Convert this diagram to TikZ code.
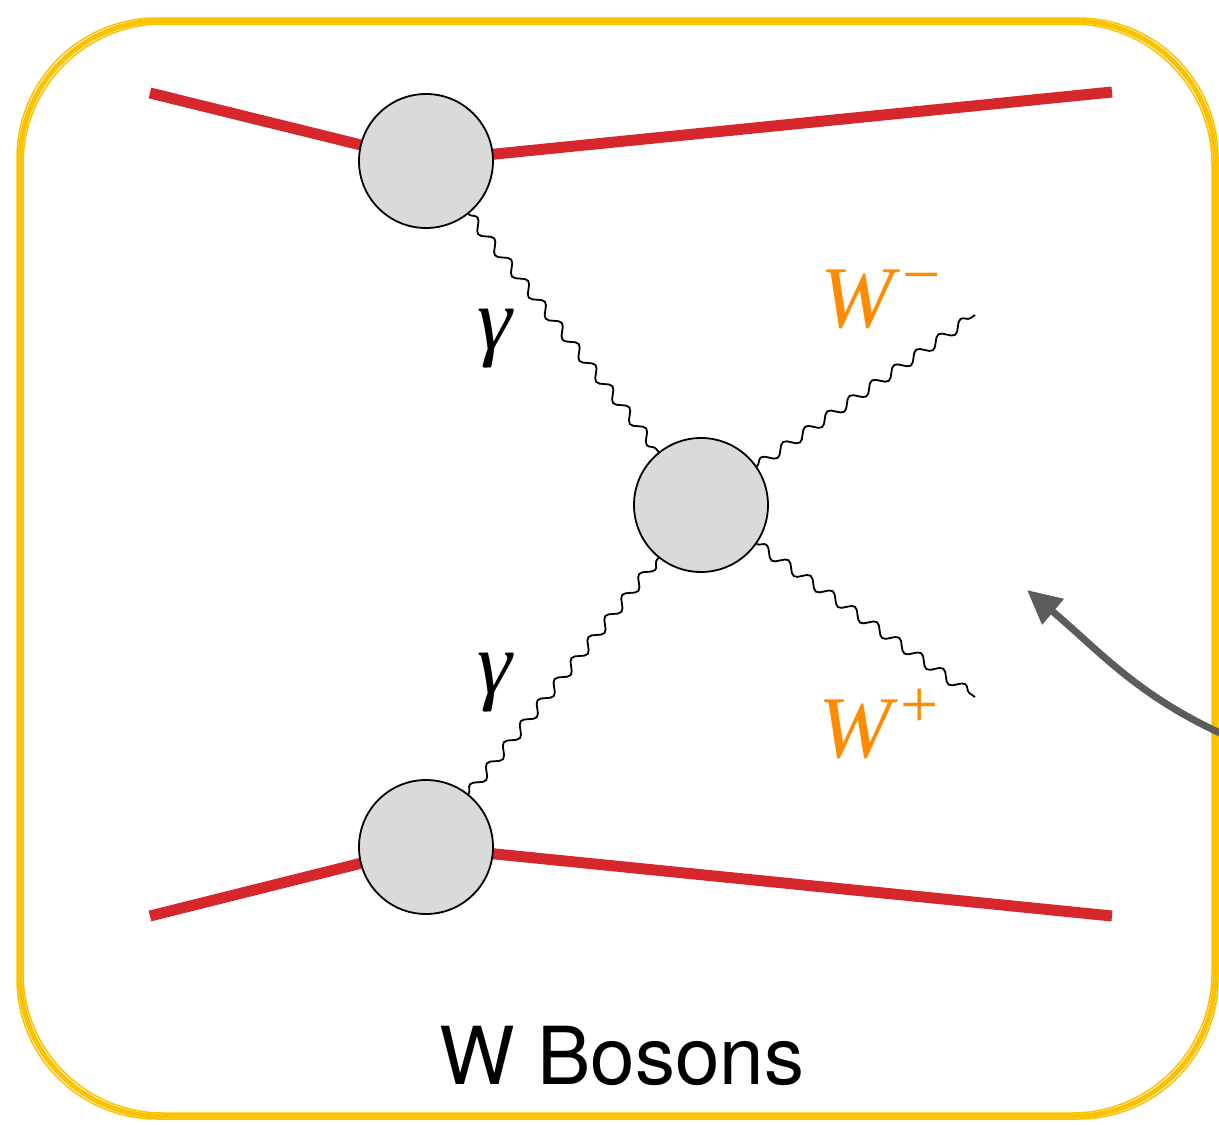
\documentclass[tikz,border=0pt]{standalone}
\usepackage{fontspec}
\setsansfont{TeX Gyre Heros}
\newfontfamily\tmsfont{Liberation Serif}
\usetikzlibrary{decorations.pathmorphing,arrows.meta}
\definecolor{fred}{RGB}{214,40,44}
\definecolor{bgray}{RGB}{218,218,218}
\definecolor{wor}{RGB}{255,140,0}
\definecolor{byel}{RGB}{250,194,0}
\definecolor{agray}{RGB}{92,92,92}
\newcommand{\wlabel}[2]{{\tmsfont\fontsize{88}{90}\selectfont\itshape W\upshape\kern9pt\raisebox{#2}{\fontsize{68}{68}\selectfont #1}}}
\begin{document}
\begin{tikzpicture}[x=1pt,y=-1pt,
  blob/.style={circle,draw=black,line width=1.8pt,fill=bgray,minimum size=134pt,inner sep=0pt},
  fermion/.style={draw=fred,line width=11pt},
  photon/.style={draw=black,line width=1.8pt,decorate,decoration={snake,amplitude=5pt,segment length=27pt}},
  lbl/.style={inner sep=0pt,font=\tmsfont\fontsize{88}{90}\selectfont\itshape},
  frame/.style={draw=byel,line width=5pt,rounded corners=140pt},
  framesk/.style={draw=byel,line width=1.5pt,rounded corners=140pt}]
\useasboundingbox (0,0) rectangle (1219,1125);
% sketchy frame
\path[frame] (20,21) rectangle (1215,1116);
\path[framesk] (17,18) rectangle (1218,1119);
\path[framesk] (23,24) rectangle (1212,1113);
% coordinates for free ends
\coordinate (tl) at (150,93);
\coordinate (tr) at (1112,92);
\coordinate (bl) at (150,916);
\coordinate (br) at (1112,916);
\coordinate (wm) at (975,315);
\coordinate (wp) at (975,697);
% fermion lines (drawn to centres, covered by blobs)
\coordinate (ct) at (426,161);
\coordinate (cb) at (426,847);
\draw[fermion] (tl) -- (ct) -- (tr);
\draw[fermion] (bl) -- (cb) -- (br);
% blobs
\node[blob] (top) at (426,161) {};
\node[blob] (mid) at (701,505) {};
\node[blob] (bot) at (426,847) {};
% photons
\draw[photon] (top) -- (mid);
\draw[photon] (bot) -- (mid);
\draw[photon] (mid) -- (wm);
\draw[photon] (mid) -- (wp);
% labels
\node[lbl] (g1) at (495,339) {γ};
\node[lbl] (g2) at (495,683) {γ};
\node[inner sep=0pt,text=wor] (lwm) at (881,299) {\wlabel{−}{30pt}};
\node[inner sep=0pt,text=wor] (lwp) at (879,724) {\wlabel{+}{30pt}};
% arrow
\coordinate (as) at (1220,733);
\coordinate (ae) at (1027,590);
\draw[draw=agray,line width=7pt,-{Triangle[length=34pt,width=32pt]}] (as) to[out=155,in=-40] (ae);
% title
\node[inner sep=0pt,font=\sffamily\fontsize{80}{90}\selectfont] (title) at (622,1056) {W Bosons};
\end{tikzpicture}
\end{document}
